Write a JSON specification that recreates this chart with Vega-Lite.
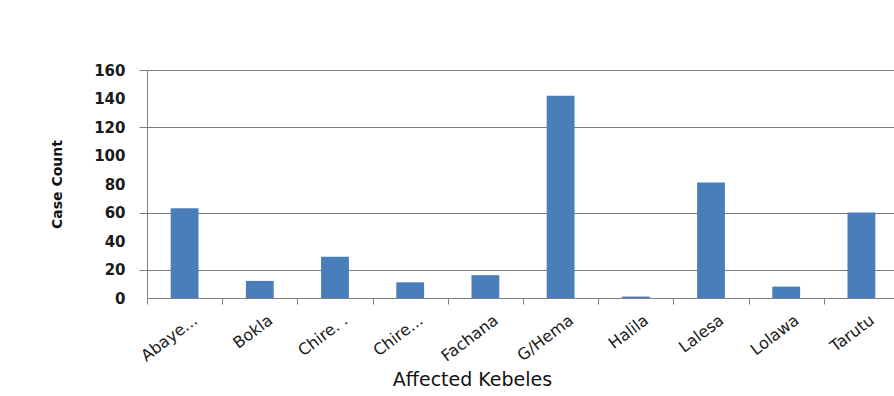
{
  "$schema": "https://vega.github.io/schema/vega-lite/v6.json",
  "autosize": {"type": "none"},
  "width": 747,
  "height": 228,
  "padding": {"left": 147, "top": 70, "right": 0, "bottom": 98},
  "background": "#ffffff",
  "config": {
    "view": {"stroke": null},
    "font": "DejaVu Sans"
  },
  "data": {
    "values": [
      {"kebele": "Abaye...", "cases": 63},
      {"kebele": "Bokla", "cases": 12},
      {"kebele": "Chire. .", "cases": 29},
      {"kebele": "Chire...", "cases": 11},
      {"kebele": "Fachana", "cases": 16},
      {"kebele": "G/Hema", "cases": 142},
      {"kebele": "Halila", "cases": 1},
      {"kebele": "Lalesa", "cases": 81},
      {"kebele": "Lolawa", "cases": 8},
      {"kebele": "Tarutu", "cases": 60}
    ]
  },
  "mark": {"type": "bar", "color": "#4a7ebb"},
  "encoding": {
    "x": {
      "field": "kebele",
      "type": "nominal",
      "sort": null,
      "scale": {"range": [0, 752], "paddingInner": 0.63, "paddingOuter": 0.315},
      "axis": {
        "title": "Affected Kebeles",
        "titleFont": "DejaVu Sans",
        "titleFontSize": 19,
        "titleFontWeight": "normal",
        "titleColor": "#111111",
        "titleX": 325,
        "titleY": 81,
        "titleAnchor": null,
        "titleAlign": "center",
        "titleBaseline": "middle",
        "labelAngle": -37,
        "labelAlign": "right",
        "labelBaseline": "middle",
        "labelFontSize": 16,
        "labelColor": "#1a1a1a",
        "labelPadding": 14,
        "tickOffset": -37.6,
        "labelOffset": 48,
        "labelOverlap": false,
        "tickSize": 6,
        "tickColor": "#808080",
        "domainColor": "#808080",
        "grid": false
      }
    },
    "y": {
      "field": "cases",
      "type": "quantitative",
      "scale": {"domain": [0, 160], "nice": false},
      "axis": {
        "title": "Case Count",
        "titleFont": "DejaVu Sans",
        "titleFontSize": 14,
        "titleFontWeight": "bold",
        "titleColor": "#111111",
        "titleAngle": -90,
        "titleX": -90,
        "titleY": 114,
        "titleAnchor": null,
        "titleAlign": "center",
        "titleBaseline": "middle",
        "values": [0, 20, 40, 60, 80, 100, 120, 140, 160],
        "labelFontSize": 15,
        "labelFontWeight": "bold",
        "labelColor": "#1a1a1a",
        "labelPadding": 14,
        "tickSize": 8,
        "tickColor": "#808080",
        "tickOpacity": {"condition": {"test": "indexof([20, 60, 120, 160], datum.value) >= 0", "value": 1}, "value": 0},
        "domainColor": "#808080",
        "grid": true,
        "gridColor": "#7a7a7a",
        "gridWidth": 1,
        "gridOpacity": {"condition": {"test": "indexof([20, 60, 120, 160], datum.value) >= 0", "value": 1}, "value": 0}
      }
    }
  }
}
